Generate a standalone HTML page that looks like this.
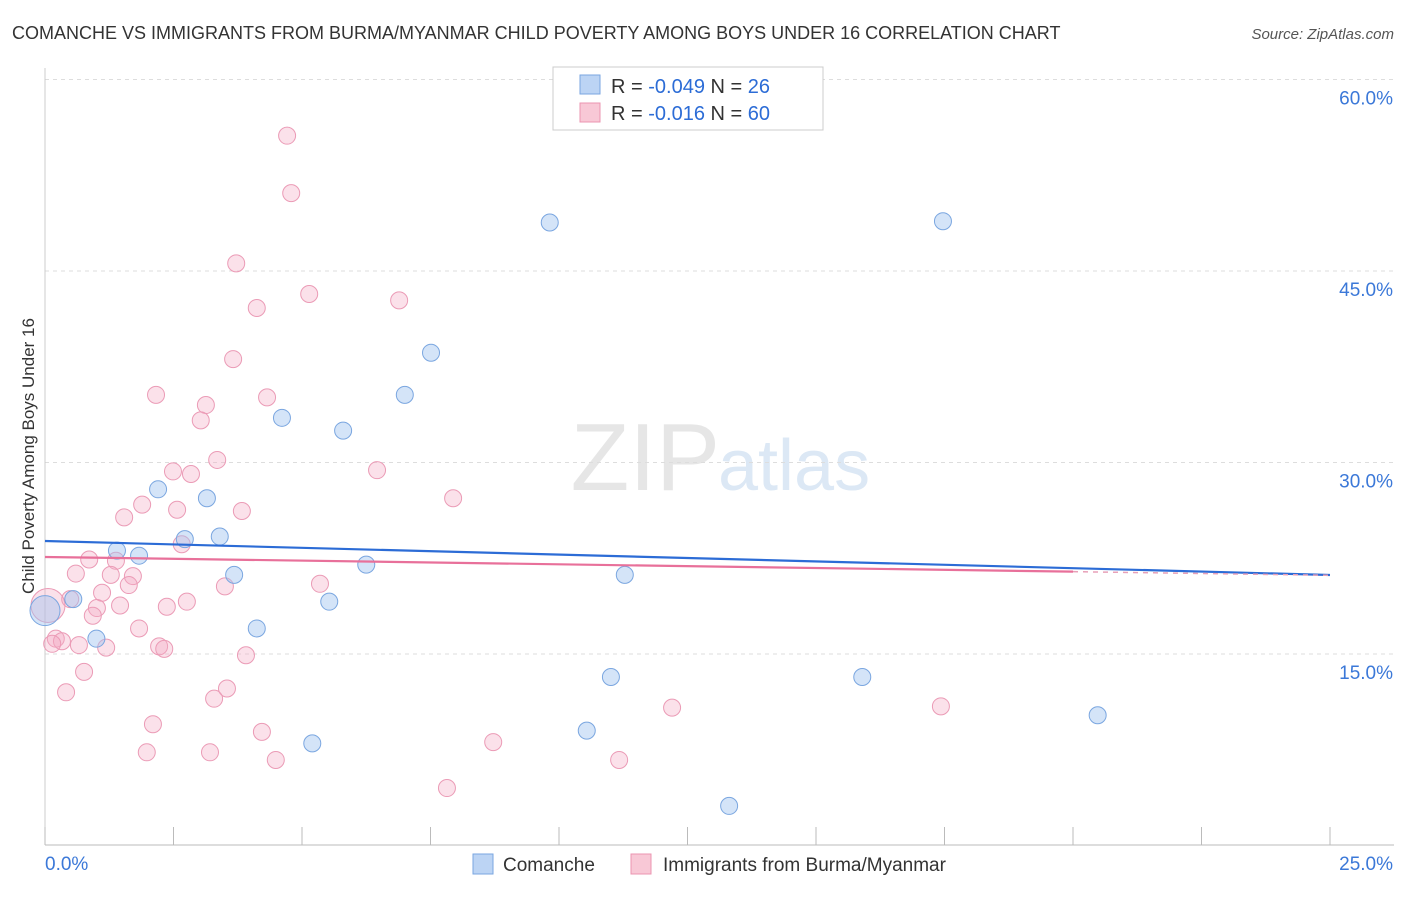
<!DOCTYPE html>
<html><head><meta charset="utf-8"><style>
body{margin:0;background:#fff;font-family:"Liberation Sans",sans-serif;}
svg text{font-family:"Liberation Sans",sans-serif;}
</style></head><body>
<svg id="chart" width="1406" height="892">
<text x="12" y="39" font-size="18" fill="#333">COMANCHE VS IMMIGRANTS FROM BURMA/MYANMAR CHILD POVERTY AMONG BOYS UNDER 16 CORRELATION CHART</text>
<text x="1394" y="39" font-size="15" fill="#555" font-style="italic" text-anchor="end">Source: ZipAtlas.com</text>
<text x="0" y="0" transform="translate(34,456) rotate(-90)" font-size="17" fill="#333" text-anchor="middle">Child Poverty Among Boys Under 16</text>
<text x="720" y="490" font-size="96" fill="#e6e6e6" text-anchor="end" font-family="Liberation Serif">ZIP</text>
<text x="718" y="490" font-size="72" fill="#dce8f5">atlas</text>
<g id="grid"></g><g id="pts"></g><g id="lines"></g>
<g>
<rect x="553" y="67" width="270" height="63" fill="#fff" stroke="#ccc"/>
<rect x="580" y="75" width="20" height="19" fill="#bcd4f4" stroke="#7aa6e0"/>
<rect x="580" y="103" width="20" height="19" fill="#f8c8d6" stroke="#eb94b0"/>
<text x="611" y="93" font-size="20" fill="#333">R = <tspan fill="#2c6cd6">-0.049</tspan>   N = <tspan fill="#2c6cd6">26</tspan></text>
<text x="611" y="120" font-size="20" fill="#333">R =  <tspan fill="#2c6cd6">-0.016</tspan>   N = <tspan fill="#2c6cd6">60</tspan></text>
</g>
<g>
<rect x="473" y="854" width="20" height="20" fill="#bcd4f4" stroke="#7aa6e0"/>
<text x="503" y="871" font-size="19" fill="#333">Comanche</text>
<rect x="631" y="854" width="20" height="20" fill="#f8c8d6" stroke="#eb94b0"/>
<text x="663" y="871" font-size="19" fill="#333">Immigrants from Burma/Myanmar</text>
</g>
</svg>
<script>
const yTicks=[15,30,45,60];
const xTickLabels=["0.0%","25.0%"];
const blueX=[0,0.55,1,1.4,1.83,2.2,2.72,3.15,3.4,3.68,4.12,4.61,5.2,5.53,5.8,6.25,7.0,7.51,9.82,10.54,11.01,11.28,13.31,15.9,17.47,20.48];
const blueY=[18.4,19.3,16.2,23.1,22.7,27.9,24.0,27.2,24.2,21.2,17.0,33.5,8.0,19.1,32.5,22.0,35.3,38.6,48.8,9.0,13.2,21.2,3.1,13.2,48.9,10.2];
const pinkX=[4.71,4.79,3.72,5.14,4.12,6.89,3.66,2.16,4.32,3.13,3.03,3.35,6.46,2.49,2.84,7.94,1.89,2.57,3.83,1.54,2.66,0.86,1.38,0.6,1.28,1.71,1.63,3.5,5.35,1.11,0.49,1.01,1.46,2.76,2.37,0.93,1.83,0.21,0.33,0.66,1.19,2.22,2.32,0.14,3.91,0.76,3.54,3.29,0.41,12.2,17.43,2.1,4.22,8.72,1.98,3.21,4.49,11.17,7.82,0];
const pinkY=[55.6,51.1,45.6,43.2,42.1,42.7,38.1,35.3,35.1,34.5,33.3,30.2,29.4,29.3,29.1,27.2,26.7,26.3,26.2,25.7,23.6,22.4,22.3,21.3,21.2,21.1,20.4,20.3,20.5,19.8,19.3,18.6,18.8,19.1,18.7,18.0,17.0,16.2,16.0,15.7,15.5,15.6,15.4,15.8,14.9,13.6,12.3,11.5,12.0,10.8,10.9,9.5,8.9,8.1,7.3,7.3,6.7,6.7,4.5,18.8];
const blueTrend=[23.85,21.19]; // at x=0 and x=25
const pinkTrend=[22.6,21.45]; // at x=0 and x=20
const X=v=>45+v/25*1285, Y=v=>845.5-v/15*191.5;
const NS="http://www.w3.org/2000/svg";
function mk(p,t,a){const e=document.createElementNS(NS,t);for(const k in a)e.setAttribute(k,a[k]);p.appendChild(e);return e;}
const g=document.getElementById('grid');
yTicks.forEach(v=>{
 const l=mk(g,'line',{x1:45,x2:1394,y1:Y(v),y2:Y(v),stroke:'#ddd','stroke-dasharray':'4,4'});
 
 
 const t=mk(g,'text',{x:1393,y:Y(v)+25,'font-size':19,fill:'#3b78d8','text-anchor':'end'});t.textContent=v.toFixed(1)+'%';
 
 
});
const ax=mk(g,'line',{x1:45,x2:1394,y1:845,y2:845,stroke:'#bbb'});


const ay=mk(g,'line',{x1:45,x2:45,y1:68,y2:845,stroke:'#ccc'});


for(let i=0;i<=10;i++){const tk=mk(g,'line',{x1:X(i*2.5),x2:X(i*2.5),y1:827,y2:845,stroke:'#bbb'});
 
 }
xTickLabels.forEach((s,i)=>{const t=mk(g,'text',{x:i?1393:45,y:870,'font-size':19,fill:'#3b78d8','text-anchor':i?'end':'start'});t.textContent=s;
 
 });
const p=document.getElementById('pts');
pinkX.forEach((x,i)=>{const big=i===pinkX.length-1;const c=mk(p,'circle',{cx:X(x)+(big?3:0),cy:Y(pinkY[i]),r:big?17:8.5,fill:'rgba(244,170,195,0.35)',stroke:'#eb9bb6','stroke-width':1});
 
 });
blueX.forEach((x,i)=>{const big=i===0;const c=mk(p,'circle',{cx:X(x),cy:Y(blueY[i]),r:big?15:8.5,fill:'rgba(160,195,240,0.45)',stroke:'#7aa6e0','stroke-width':1});
 
 });
const L=document.getElementById('lines');
const b=mk(L,'line',{x1:X(0),y1:Y(blueTrend[0]),x2:X(25),y2:Y(blueTrend[1]),stroke:'#2c6cd6','stroke-width':2.2});


const pl=mk(L,'line',{x1:X(0),y1:Y(pinkTrend[0]),x2:X(20),y2:Y(pinkTrend[1]),stroke:'#e8709a','stroke-width':2.2});


const slope=(pinkTrend[1]-pinkTrend[0])/20;
const pd=mk(L,'line',{x1:X(20),y1:Y(pinkTrend[1]),x2:X(25),y2:Y(pinkTrend[0]+slope*25),stroke:'#e8a0b8','stroke-width':1.5,'stroke-dasharray':'5,5'});


</script>
</body></html>
